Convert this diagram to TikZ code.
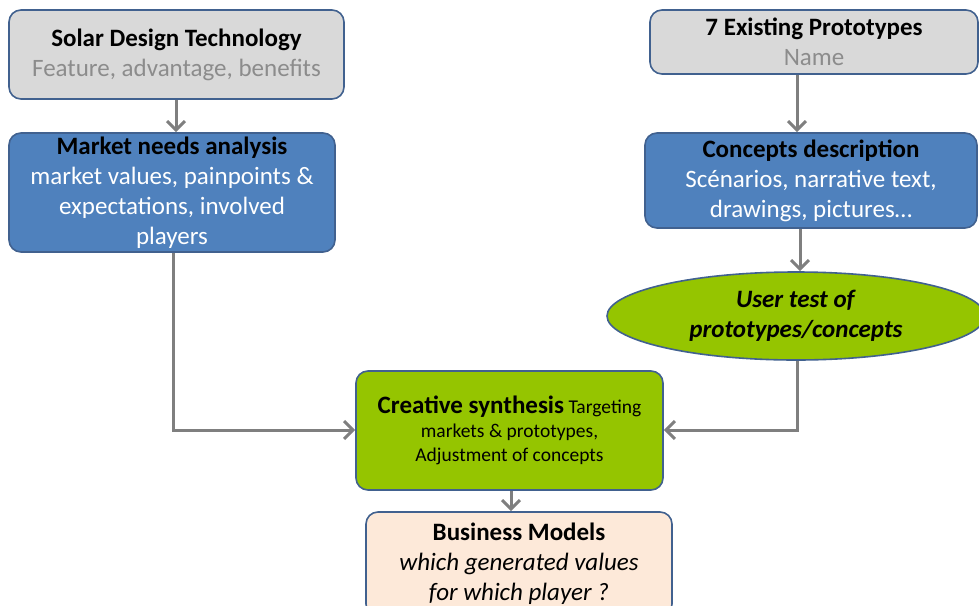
\documentclass[tikz,border=0pt]{standalone}
\usepackage{fontspec}
\setmainfont{Carlito}
\usetikzlibrary{arrows.meta,shapes.geometric}
\definecolor{edgeblue}{HTML}{41618F}
\definecolor{boxgray}{HTML}{D9D9D9}
\definecolor{boxblue}{HTML}{4F81BD}
\definecolor{boxgreen}{HTML}{95C500}
\definecolor{boxpeach}{HTML}{FDE9D9}
\definecolor{txtgray}{HTML}{8C8C8C}
\definecolor{linkgray}{HTML}{7F7F7F}
\tikzset{
  panel/.style={draw=edgeblue, line width=1.6pt, rounded corners=12pt, inner sep=0pt, align=center},
  greybox/.style={panel, fill=boxgray},
  bluebox/.style={panel, fill=boxblue},
  greenbox/.style={panel, fill=boxgreen},
  peachbox/.style={panel, fill=boxpeach},
  oval/.style={ellipse, draw=edgeblue, line width=1.6pt, fill=boxgreen, inner sep=0pt, align=center},
  link/.style={draw=linkgray, line width=3pt, -{Straight Barb[length=9pt,width=18pt,line width=3pt]}},
  big/.style={font=\fontsize{25}{30}\selectfont},
}
\begin{document}
\begin{tikzpicture}[x=1pt,y=-1pt]
\useasboundingbox (0,0) rectangle (979,605);
\begin{scope}
\clip (0,0) rectangle (979,605);

% boxes
\node[greybox, big, minimum width=335pt, minimum height=89pt] (sdt) at (176.5,54.5)
  {\textbf{Solar Design Technology}\\\textcolor{txtgray}{Feature, advantage, benefits}};
\node[bluebox, big, minimum width=326pt, minimum height=119pt] (mna) at (172,192.5)
  {\textbf{Market needs analysis}\\\textcolor{white}{market values, painpoints \&}\\\textcolor{white}{expectations, involved}\\\textcolor{white}{players}};
\node[greybox, big, minimum width=328pt, minimum height=64pt] (ep) at (814,42)
  {\textbf{7 Existing Prototypes}\\\textcolor{txtgray}{Name}};
\node[bluebox, big, minimum width=332pt, minimum height=95pt] (cd) at (811,180.5)
  {\textbf{Concepts description}\\\textcolor{white}{Scénarios, narrative text,}\\\textcolor{white}{drawings, pictures…}};
\node[oval, big, minimum width=378pt, minimum height=88pt] (ut) at (796,316)
  {\textbf{\textit{User test of}}\\\textbf{\textit{prototypes/concepts}}};
\node[greenbox, minimum width=307pt, minimum height=119pt, font=\fontsize{19.5}{24}\selectfont] (cs) at (509.5,430.5)
  {{\fontsize{25}{24}\selectfont\textbf{Creative synthesis}} Targeting\\markets \& prototypes,\\Adjustment of concepts};
\node[peachbox, big, minimum width=306pt, minimum height=104pt] (bm) at (519,564)
  {\textbf{Business Models}\\\textit{which generated values}\\\textit{for which player ?}};

% connectors
\draw[link] (sdt.south -| 176,0) -- (mna.north -| 176,0);
\draw[link] (ep.south -| 797,0) -- (cd.north -| 797,0);
\draw[link] (cd.south -| 800,0) -- (ut.north -| 800,0);
\draw[link] (mna.south -| 173,0) |- (cs.west |- 0,430);
\draw[link] (ut.south -| 797,0) |- (cs.east |- 0,430);
\draw[link] (cs.south -| 511,0) -- (bm.north -| 511,0);
\end{scope}
\end{tikzpicture}
\end{document}
